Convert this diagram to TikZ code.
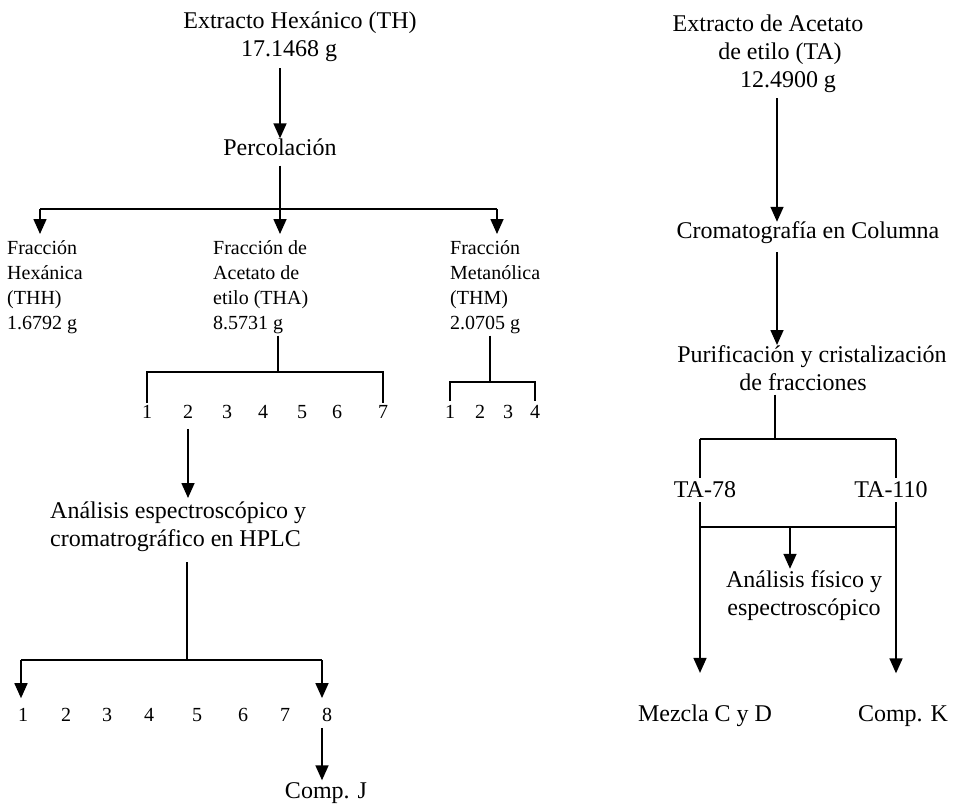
\documentclass[tikz,border=0pt]{standalone}
\usepackage{fontspec}
\setmainfont{Liberation Serif}
\usetikzlibrary{arrows.meta}
\tikzset{
  txt/.style={font=\fontsize{24}{28}\selectfont, align=center, inner sep=0pt},
  small/.style={font=\fontsize{20}{25}\selectfont, align=left, inner sep=0pt, anchor=north west},
  num/.style={font=\fontsize{20}{24}\selectfont, inner sep=0pt},
  ln/.style={line width=1.6pt},
  arr/.style={line width=1.6pt, -{Triangle[width=13pt,length=15pt]}},
}
\begin{document}
\begin{tikzpicture}[x=1pt,y=-1pt]
\useasboundingbox (0,0) rectangle (957,806);
% ---------- left tree ----------
\node[txt, anchor=north] (th) at (300,12) {Extracto Hexánico (TH)\\17.1468 g\hspace*{22pt}};
\node[txt] (perc) at (280,147) {Percolación};
\coordinate (t1) at (280,68);
\draw[arr] (t1) -- (t1 |- perc.north);
\coordinate (b1M) at (280,209);
\coordinate (b1L) at (40,209);
\coordinate (b1R) at (497,209);
\node[small] (thh) at (7,240) {Fracción\\Hexánica\\(THH)\\1.6792 g};
\node[small] (tha) at (213,240) {Fracción de\\Acetato de\\etilo (THA)\\8.5731 g};
\node[small] (thm) at (450,240) {Fracción\\Metanólica\\(THM)\\2.0705 g};
\draw[ln] ([yshift=-10pt]perc.south -| b1M) -- (b1M);
\draw[ln] (b1L) -- (b1R);
\draw[arr] (b1L) -- ([yshift=6pt]b1L |- thh.north);
\draw[arr] (b1M) -- ([yshift=6pt]b1M |- tha.north);
\draw[arr] (b1R) -- ([yshift=6pt]b1R |- thm.north);
% THA fractions
\foreach \i/\x in {1/147,2/188,3/227,4/263,5/302,6/337,7/383}
  \node[num] (a\i) at (\x,412) {\i};
\coordinate (b2) at (278,372);
\draw[ln] ([yshift=-2pt]tha.south -| b2) -- (b2);
\draw[ln] ([yshift=2pt]a1.north) |- (b2) -| ([yshift=2pt]a7.north);
% THM fractions
\foreach \i/\x in {1/450,2/480,3/508,4/535}
  \node[num] (c\i) at (\x,412) {\i};
\coordinate (b3) at (490,382);
\draw[ln] ([yshift=-2pt]thm.south -| b3) -- (b3);
\draw[ln] ([yshift=4pt]c1.north) |- (b3) -| ([yshift=4pt]c4.north);
% analysis
\node[txt, align=left, anchor=north west] (ana) at (50,502) {Análisis espectroscópico y\\cromatrográfico en HPLC};
\draw[arr] ([yshift=-10pt]a2.south) -- ([yshift=4pt]a2.south |- ana.north);
\coordinate (b4) at (187,660);
\draw[ln] ([yshift=-10pt]ana.south -| b4) -- (b4);
\foreach \i/\x in {1/23,2/66,3/107,4/149,5/197,6/243,7/285,8/327}
  \node[num] (h\i) at (\x,715) {\i};
\coordinate (b4L) at (21,660);
\coordinate (b4R) at (322,660);
\draw[ln] (b4L) -- (b4R);
\draw[arr] (b4L) -- ([yshift=10pt]b4L |- h1.north);
\draw[arr] (b4R) -- ([yshift=10pt]b4R |- h8.north);
\node[txt] (compj) at (326,793) {Comp. J};
\draw[arr] ([xshift=-5pt,yshift=-6pt]h8.south) -- ([xshift=-4pt,yshift=2pt]compj.north);
% ---------- right tree ----------
\node[txt, anchor=north] (ta) at (780,15) {Extracto de Acetato\hspace*{24pt}\\de etilo (TA)\\\hspace*{16pt}12.4900 g};
\node[txt] (crom) at (808,233) {Cromatografía en Columna};
\node[txt, anchor=north] (puri) at (812,345) {Purificación y cristalización\\de fracciones\hspace*{18pt}};
\coordinate (t2) at (777,98);
\coordinate (t3) at (777,252);
\draw[arr] (t2) -- (t2 |- crom.north);
\draw[arr] (t3) -- (t3 |- puri.north);
\coordinate (b5) at (775,439);
\coordinate (b5L) at (700,439);
\coordinate (b5R) at (896,439);
\draw[ln] ([yshift=-4pt]puri.south -| b5) -- (b5);
\node[txt] (ta78) at (705,490) {TA-78};
\node[txt] (ta110) at (891,490) {TA-110};
\draw[ln] (b5L) -- (b5R);
\draw[ln] (b5L) -- ([yshift=4pt]b5L |- ta78.north);
\draw[ln] (b5R) -- ([yshift=4pt]b5R |- ta110.north);
\node[txt] (mez) at (705,716) {Mezcla C y D};
\node[txt] (compk) at (903,716) {Comp. K};
\coordinate (b6L) at (700,527);
\coordinate (b6R) at (896,527);
\coordinate (b6M) at (790,527);
\draw[arr] ([yshift=-4pt]b6L |- ta78.south) -- ([yshift=32pt]b6L |- mez.north);
\draw[arr] ([yshift=-4pt]b6R |- ta110.south) -- ([yshift=32pt]b6R |- compk.north);
\draw[ln] (b6L) -- (b6R);
\node[txt] (fis) at (804,596) {Análisis físico y\\espectroscópico};
\draw[arr] (b6M) -- ([yshift=2pt]b6M |- fis.north);
\end{tikzpicture}
\end{document}
